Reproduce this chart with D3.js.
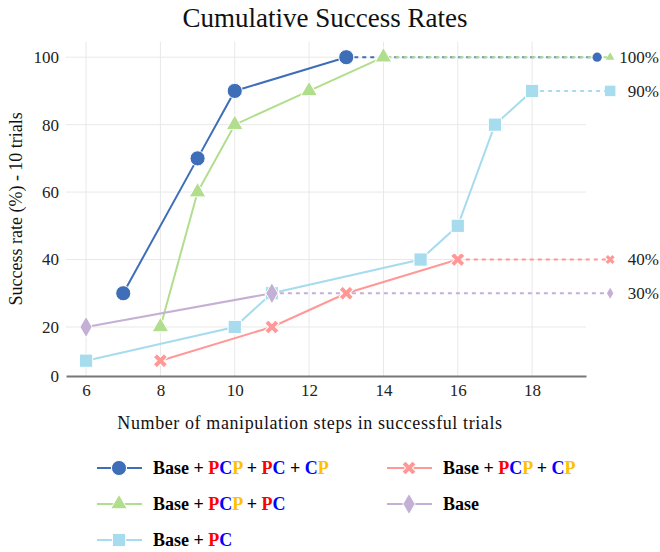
<!DOCTYPE html>
<html lang="en">
<head>
<meta charset="UTF-8">
<title>Cumulative Success Rates</title>
<script src="https://d3js.org/d3.v7.min.js"></script>
<style>
  body { margin: 0; background: #fff; }
  svg { font-family: "Liberation Serif", "Times New Roman", serif; }
</style>
</head>
<body>
<div id="chart"></div>
<script>
// data
var seriesNames = ["Base + PCP + PC + CP", "Base + PCP + PC", "Base + PC", "Base + PCP + CP", "Base"];
var stepsAll = [7, 9, 10, 13];
var rateAll = [30, 70, 90, 100];
var stepsPcpPc = [8, 9, 10, 12, 14];
var ratePcpPc = [20, 60, 80, 90, 100];
var stepsPc = [6, 10, 11, 15, 16, 17, 18];
var ratePc = [10, 20, 30, 40, 50, 80, 90];
var stepsPcpCp = [8, 11, 13, 16];
var ratePcpCp = [10, 20, 30, 40];
var stepsBase = [6, 11];
var rateBase = [20, 30];
// where the dashed "final value" tails end
var tailEnd = [19.75, 20.1, 20.1, 20.1, 20.1];
var finalLabels = ["100%", "90%", "40%", "30%"];
var finalValues = [100, 90, 40, 30];
var xTicks = [6, 8, 10, 12, 14, 16, 18];
var yTicks = [20, 40, 60, 80, 100];
var yFloorLabel = "0";

var colors = ["#3f6eb9", "#b1de8c", "#a6dced", "#ff9896", "#c5b0d5"];
var symbols = [d3.symbolCircle, d3.symbolTriangle, d3.symbolSquare, d3.symbolCross, d3.symbolDiamond];
var sizes = [180, 120, 175, 125, 130];
var endSizes = [68, 32, 110, 50, 36];
var rotations = [0, 0, 0, 45, 0];

var series = [
  { x: stepsAll, y: rateAll },
  { x: stepsPcpPc, y: ratePcpPc },
  { x: stepsPc, y: ratePc },
  { x: stepsPcpCp, y: ratePcpCp },
  { x: stepsBase, y: rateBase }
].map(function (s, i) {
  return {
    name: seriesNames[i],
    points: s.x.map(function (v, j) { return { x: v, y: s.y[j] }; })
  };
});

var W = 660, H = 552;
var plotLeft = 66, plotRight = 586, plotTop = 41.7, plotBottom = 376;

var svg = d3.select("#chart").append("svg")
  .attr("width", W)
  .attr("height", H);

var x = d3.scaleLinear().domain([5.46, 19.45]).range([plotLeft, plotRight]);
var y = d3.scaleLinear().domain([5.46, 104.6]).range([plotBottom, plotTop]);

// grid
svg.append("g")
  .selectAll("line")
  .data(xTicks)
  .enter().append("line")
  .attr("x1", function (d) { return x(d); })
  .attr("x2", function (d) { return x(d); })
  .attr("y1", plotTop)
  .attr("y2", plotBottom)
  .attr("stroke", "#e8e8e8")
  .attr("stroke-width", 1);

svg.append("g")
  .selectAll("line")
  .data(yTicks)
  .enter().append("line")
  .attr("x1", plotLeft)
  .attr("x2", plotRight)
  .attr("y1", function (d) { return y(d); })
  .attr("y2", function (d) { return y(d); })
  .attr("stroke", "#e8e8e8")
  .attr("stroke-width", 1);

// axes
var xAxis = svg.append("g")
  .attr("transform", "translate(0," + plotBottom + ")")
  .call(d3.axisBottom(x).tickValues(xTicks).tickSize(0).tickPadding(8));
xAxis.select(".domain").attr("stroke", "#777").attr("stroke-width", 2);
xAxis.selectAll("text").attr("font-size", 17).attr("fill", "#222")
  .attr("font-family", "Liberation Serif");

var yAxis = svg.append("g")
  .attr("transform", "translate(" + plotLeft + ",0)")
  .call(d3.axisLeft(y)
    .tickValues([y.domain()[0]].concat(yTicks))
    .tickFormat(function (d, i) { return i === 0 ? yFloorLabel : d; })
    .tickSize(0).tickPadding(7));
yAxis.select(".domain").remove();
yAxis.selectAll("text").attr("font-size", 17).attr("fill", "#222")
  .attr("font-family", "Liberation Serif");

// lines
var line = d3.line()
  .x(function (d) { return x(d.x); })
  .y(function (d) { return y(d.y); });

// dashed tails to the final value
series.forEach(function (s, i) {
  var last = s.points[s.points.length - 1];
  svg.append("line")
    .attr("x1", x(last.x))
    .attr("x2", x(tailEnd[i]))
    .attr("y1", y(last.y))
    .attr("y2", y(last.y))
    .attr("stroke", colors[i])
    .attr("stroke-width", 2)
    .attr("stroke-dasharray", "4,4")
    .attr("stroke-dashoffset", i === 1 ? 4 : 0);
});

series.forEach(function (s, i) {
  svg.append("path")
    .datum(s.points)
    .attr("fill", "none")
    .attr("stroke", colors[i])
    .attr("stroke-width", 2)
    .attr("d", line);
});

series.forEach(function (s, i) {
  var sym = d3.symbol().type(symbols[i]).size(sizes[i]);
  svg.append("g")
    .selectAll("path")
    .data(s.points)
    .enter().append("path")
    .attr("d", sym)
    .attr("transform", function (d) {
      return "translate(" + x(d.x) + "," + y(d.y) + ") rotate(" + rotations[i] + ")";
    })
    .attr("fill", colors[i])
    .attr("stroke", "#fff")
    .attr("stroke-width", 1);

  var last = s.points[s.points.length - 1];
  svg.append("path")
    .attr("d", d3.symbol().type(symbols[i]).size(endSizes[i]))
    .attr("transform", "translate(" + x(tailEnd[i]) + "," + y(last.y) + ") rotate(" + rotations[i] + ")")
    .attr("fill", colors[i]);
});

// final value labels
svg.append("g")
  .selectAll("text")
  .data(finalLabels)
  .enter().append("text")
  .attr("x", 659)
  .attr("y", function (d, i) { return y(finalValues[i]); })
  .attr("dy", "0.35em")
  .attr("text-anchor", "end")
  .attr("font-size", 17)
  .attr("fill", "#222")
  .text(function (d) { return d; });

// titles
svg.append("text")
  .attr("x", 325)
  .attr("y", 27)
  .attr("text-anchor", "middle")
  .attr("font-size", 27)
  .attr("fill", "#111")
  .text("Cumulative Success Rates");

svg.append("text")
  .attr("x", 310)
  .attr("y", 429)
  .attr("text-anchor", "middle")
  .attr("font-size", 18)
  .attr("letter-spacing", 0.6)
  .attr("fill", "#111")
  .text("Number of manipulation steps in successful trials");

svg.append("text")
  .attr("transform", "translate(22," + ((plotTop + plotBottom) / 2) + ") rotate(-90)")
  .attr("text-anchor", "middle")
  .attr("font-size", 18)
  .attr("fill", "#111")
  .text("Success rate (%) - 10 trials");

// legend: "C" blue, "P" before C red, "P" after C gold
var RED = "#ff0000", BLUE = "#0000ff", GOLD = "#ffc000";
function legendParts(name) {
  var parts = [];
  name.split("").forEach(function (ch, k) {
    var c = "#000";
    if (ch === "C") c = BLUE;
    if (ch === "P") c = name[k + 1] === "C" ? RED : GOLD;
    parts.push({ t: ch, c: c });
  });
  return parts;
}

var legendPos = [[97, 468], [97, 504], [97, 540], [387, 468], [387, 504]];

var legend = svg.append("g")
  .selectAll("g")
  .data(series)
  .enter().append("g")
  .attr("transform", function (d, i) { return "translate(" + legendPos[i][0] + "," + legendPos[i][1] + ")"; });

legend.append("line")
  .attr("x1", 0).attr("x2", 45)
  .attr("stroke", function (d, i) { return colors[i]; })
  .attr("stroke-width", 2);

legend.append("path")
  .attr("d", function (d, i) { return d3.symbol().type(symbols[i]).size(sizes[i])(); })
  .attr("transform", function (d, i) { return "translate(22,0) rotate(" + rotations[i] + ")"; })
  .attr("fill", function (d, i) { return colors[i]; })
  .attr("stroke", "#fff")
  .attr("stroke-width", 1);

legend.append("text")
  .attr("x", 56)
  .attr("dy", "0.35em")
  .attr("font-size", 18)
  .attr("font-weight", "bold")
  .selectAll("tspan")
  .data(function (d) { return legendParts(d.name); })
  .enter().append("tspan")
  .attr("fill", function (d) { return d.c; })
  .text(function (d) { return d.t; });
</script>
</body>
</html>
